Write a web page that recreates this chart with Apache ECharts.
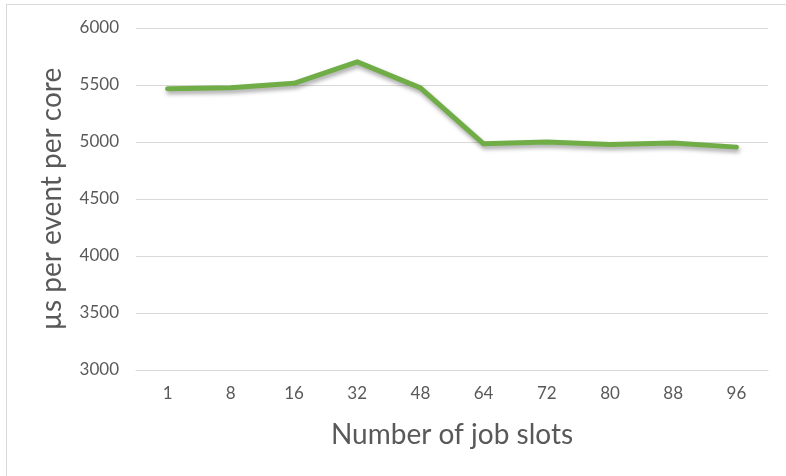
<!DOCTYPE html>
<html>
<head>
<meta charset="utf-8">
<script src="https://cdn.jsdelivr.net/npm/echarts@6/dist/echarts.min.js"></script>
<style>
html,body{margin:0;padding:0;background:#fff;}
#chart{width:786px;height:476px;}
</style>
</head>
<body>
<div id="chart"></div>
<script>
var categories = ['1','8','16','32','48','64','72','80','88','96'];
var values = [5467, 5475, 5515, 5703, 5475, 4984, 5000, 4978, 4992, 4955];
var yTicks = [3000, 3500, 4000, 4500, 5000, 5500, 6000];
var xTitle = 'Number of job slots';
var yTitle = 'µs per event per core';

var chart = echarts.init(document.getElementById('chart'));
var FONT = 'Lato';
chart.setOption({
  animation: false,
  backgroundColor: '#ffffff',
  grid: {left: 136, right: 18, top: 28, bottom: 106},
  graphic: [
    {type: 'line', shape: {x1: 6, y1: 4.5, x2: 786, y2: 4.5}, style: {stroke: '#d9d9d9', lineWidth: 1}},
    {type: 'line', shape: {x1: 6.5, y1: 4, x2: 6.5, y2: 476}, style: {stroke: '#d9d9d9', lineWidth: 1}}
  ],
  xAxis: {
    type: 'category',
    data: categories,
    boundaryGap: true,
    name: xTitle,
    nameLocation: 'middle',
    nameGap: 51,
    nameTextStyle: {fontFamily: FONT, fontSize: 28, color: '#595959'},
    axisLine: {show: true, lineStyle: {color: '#d9d9d9', width: 1}},
    axisTick: {show: false},
    axisLabel: {fontFamily: FONT, fontSize: 17, color: '#595959', margin: 15}
  },
  yAxis: {
    type: 'value',
    min: yTicks[0],
    max: yTicks[yTicks.length - 1],
    interval: 500,
    name: yTitle,
    nameLocation: 'middle',
    nameGap: 70,
    nameTextStyle: {fontFamily: FONT, fontSize: 28, color: '#595959'},
    axisLine: {show: false},
    axisTick: {show: false},
    splitLine: {lineStyle: {color: '#d9d9d9', width: 1}},
    axisLabel: {fontFamily: FONT, fontSize: 17, color: '#595959', margin: 17,
      formatter: function (v) { return String(v); }}
  },
  series: [{
    type: 'line',
    data: values,
    symbol: 'none',
    lineStyle: {
      color: '#70ad47', width: 5, cap: 'round', join: 'round',
      shadowColor: 'rgba(0,0,0,0.35)', shadowBlur: 4, shadowOffsetX: 1, shadowOffsetY: 3
    },
    itemStyle: {color: '#70ad47'}
  }]
});
</script>
</body>
</html>
